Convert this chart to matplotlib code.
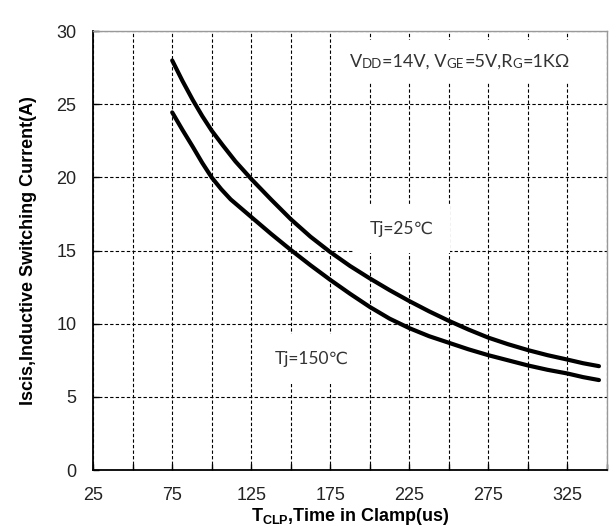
import matplotlib.pyplot as plt
from matplotlib import font_manager

# clamp time (us) and switching current (A) for the two junction temperatures
t_25 = [75, 81.5, 88, 94, 100, 107, 115, 125, 137.5, 150, 162.5, 175, 187.5, 200,
        212.5, 225, 237.5, 250, 262.5, 275, 287.5, 300, 312.5, 325, 335, 345]
i_25 = [28.0, 26.6, 25.3, 24.2, 23.2, 22.2, 21.1, 19.9, 18.5, 17.15, 15.95, 14.9, 13.95, 13.1,
        12.3, 11.55, 10.85, 10.2, 9.6, 9.05, 8.6, 8.2, 7.85, 7.55, 7.3, 7.1]

t_150 = [75, 81.5, 88, 94, 100, 106, 112, 118.5, 125, 137.5, 150, 162.5, 175, 187.5, 200,
         212.5, 225, 237.5, 250, 262.5, 275, 287.5, 300, 312.5, 325, 335, 345]
i_150 = [24.45, 23.25, 22.1, 21.0, 20.0, 19.2, 18.5, 17.9, 17.3, 16.15, 15.05, 14.0, 13.0,
         12.05, 11.15, 10.35, 9.7, 9.15, 8.7, 8.25, 7.85, 7.5, 7.15, 6.85, 6.6, 6.35, 6.15]

x_ticks = [25, 50, 75, 100, 125, 150, 175, 200, 225, 250, 275, 300, 325, 350]
x_labels = ["25", "", "75", "", "125", "", "175", "", "225", "", "275", "", "325", ""]
y_ticks = [0, 5, 10, 15, 20, 25, 30]

installed = {f.name for f in font_manager.fontManager.ttflist}
narrow = "Liberation Sans Narrow" if "Liberation Sans Narrow" in installed else "Liberation Sans"
note_font = ["Lato", "DejaVu Sans"]

fig = plt.figure(figsize=(6.13, 5.29), dpi=100)
ax = fig.add_axes([0.152, 0.1115, 0.838, 0.8295])

for t, i in [(t_25, i_25), (t_150, i_150)]:
    ax.plot(t, i, color="black", lw=3, solid_capstyle="round",
            solid_joinstyle="round", zorder=4)

ax.set_xlim(25, 350)
ax.set_ylim(0, 30)
ax.set_xticks(x_ticks)
ax.set_xticklabels(x_labels)
ax.set_yticks(y_ticks)
ax.grid(True, color="black", linestyle=(0, (3, 2)), lw=0.8, zorder=1)
ax.set_axisbelow(True)

ax.tick_params(direction="in", length=4, width=1, pad=12, labelsize=13)
for lab in ax.get_xticklabels() + ax.get_yticklabels():
    lab.set_fontfamily("Liberation Sans")
    lab.set_color("#222222")

for side in ["left", "bottom"]:
    ax.spines[side].set_color("black")
    ax.spines[side].set_linewidth(1.3)
for side in ["top", "right"]:
    ax.spines[side].set_color("#999999")
    ax.spines[side].set_linewidth(1.0)

ax.set_xlabel(r"T$_{\mathregular{CLP}}$,Time in Clamp(us)", fontfamily=narrow,
              fontweight="bold", fontsize=13, labelpad=2)
ax.set_ylabel("Iscis,Inductive Switching Current(A)", fontfamily=narrow,
              fontweight="bold", fontsize=13, labelpad=14)

box = dict(facecolor="white", edgecolor="none")

# test condition label, built from pieces so the subscripts sit small on the baseline
pieces = [("V", 13), ("DD", 9.5), ("=14V, V", 13), ("GE", 9.5), ("=5V,R", 13), ("G", 9.5), ("=1KΩ", 13)]
ax.text(258, 27.9, " " * 44, fontsize=12, ha="center", va="center",
        bbox=dict(facecolor="white", edgecolor="none", pad=9), zorder=3)
prev = ax.text(187.5, 27.9, pieces[0][0], fontsize=pieces[0][1], family=note_font,
               color="#333333", va="center", zorder=5)
for txt, size in pieces[1:]:
    prev = ax.annotate(txt, xy=(1, 0), xycoords=prev, fontsize=size, family=note_font,
                       color="#333333", va="bottom", zorder=5)

ax.text(220, 16.5, "Tj=25℃", fontsize=12.5, family=note_font, color="#333333",
        ha="center", va="center", bbox=dict(box, pad=12), zorder=3)
ax.text(163, 7.6, "Tj=150℃", fontsize=12.5, family=note_font, color="#333333",
        ha="center", va="center", bbox=dict(box, pad=12), zorder=3)

fig.savefig("out.png", dpi=100)
